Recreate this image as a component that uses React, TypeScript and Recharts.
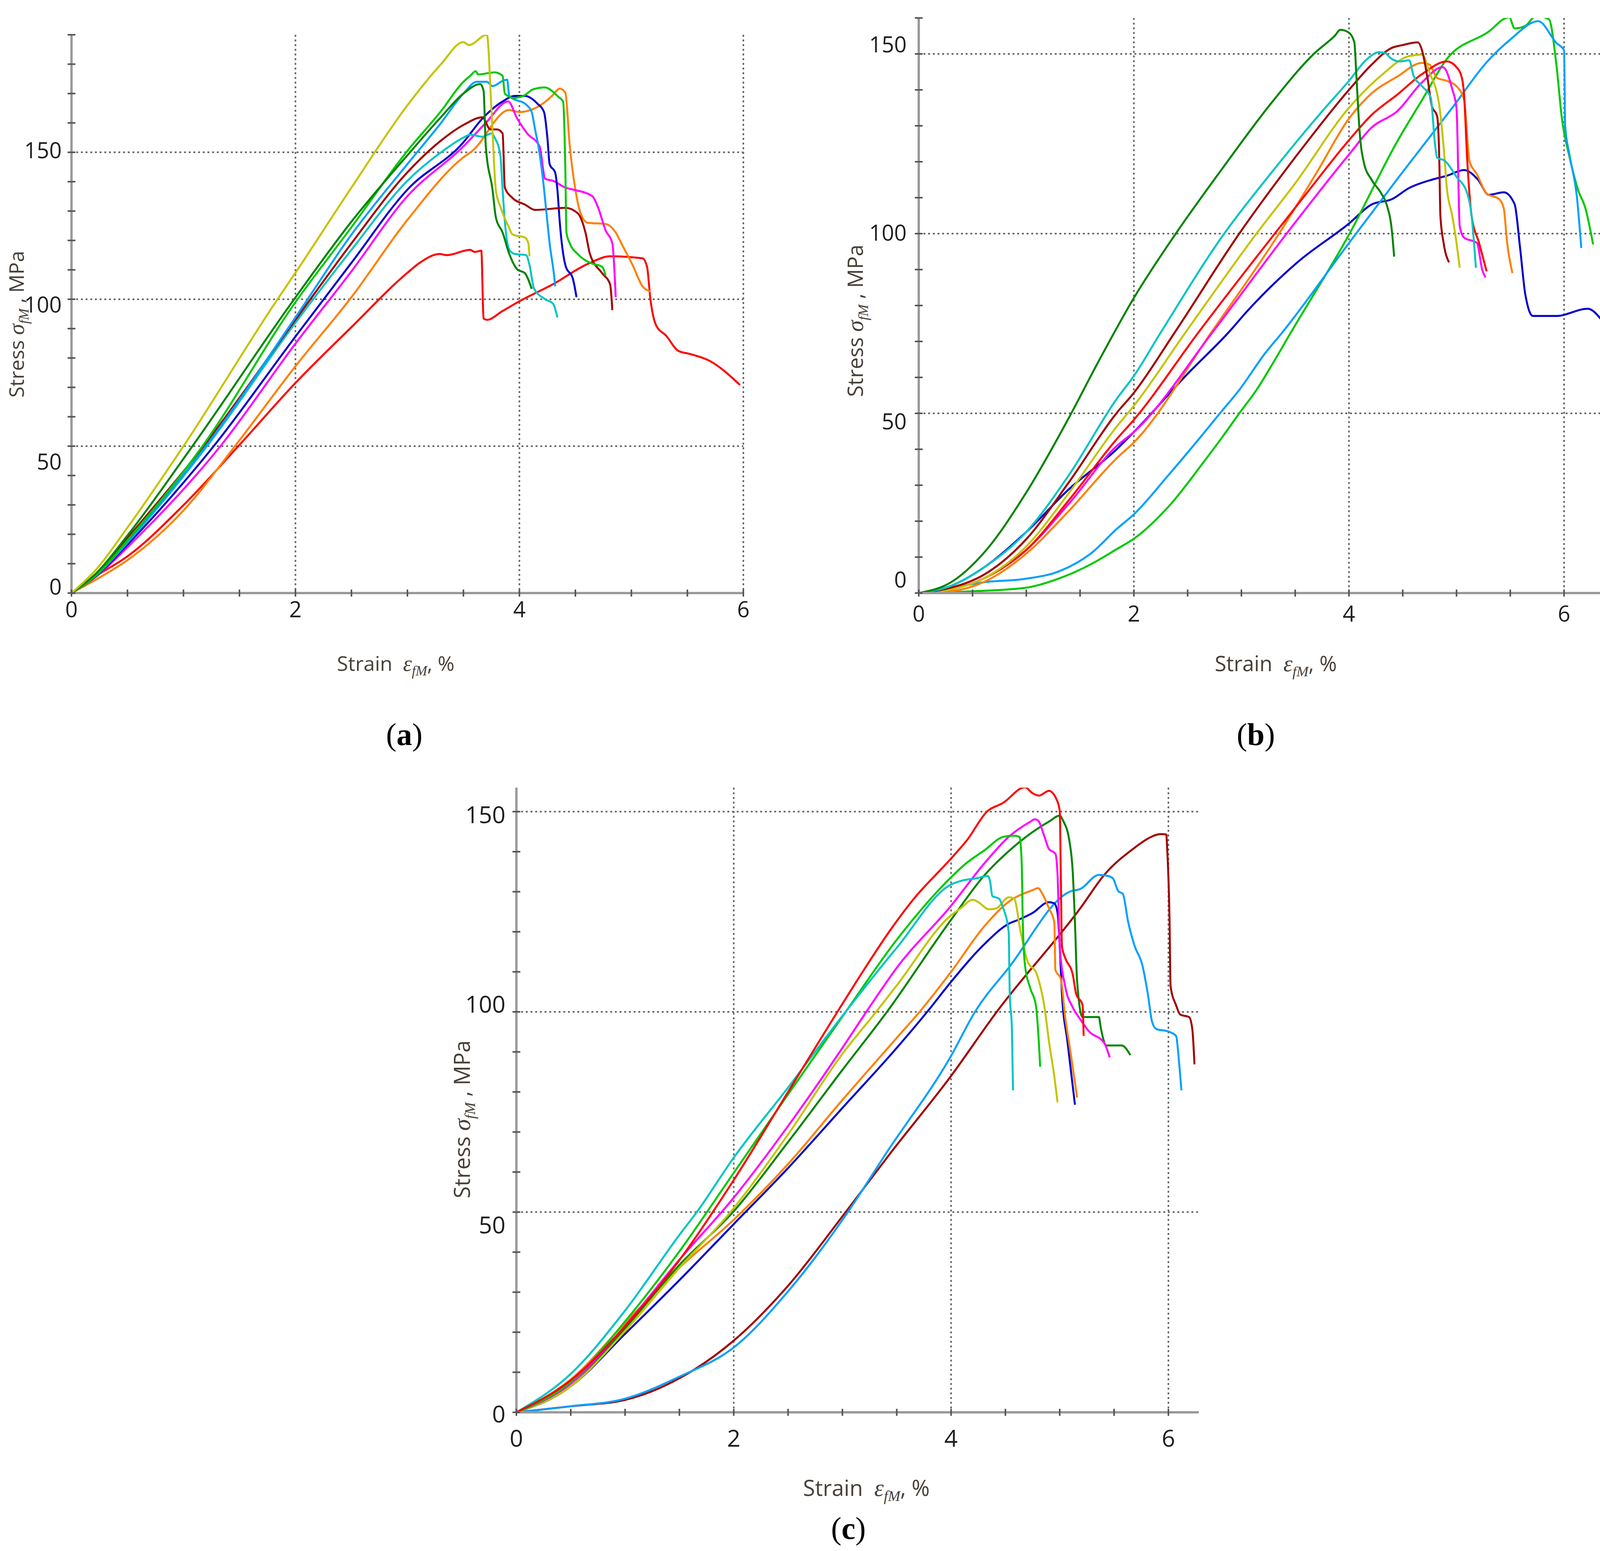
import React from "react";
import { LineChart, Line, XAxis, YAxis, CartesianGrid } from "recharts";

// curve colours used by the test machine software
const YELLOW = "#c4c400";
const GREEN = "#00c800";
const DKGREEN = "#008400";
const LTBLUE = "#00a0ff";
const CYAN = "#00c4c4";
const BLUE = "#0000cc";
const MAGENTA = "#ff00ff";
const ORANGE = "#ff8000";
const RED = "#ff0000";
const BROWN = "#a00000";

// ---- panel (a): strain %, stress MPa ----
const aYellow = [[0,0],[0.22,8],[0.5,22.3],[1,50],[1.84,100],[2,109],[2.5,138],[3,166],[3.3,180],[3.5,187.5],[3.55,186.5],[3.71,190],[3.75,165],[3.79,137],[3.83,131.5],[3.9,125],[3.94,122],[4.05,121],[4.08,119],[4.09,114.6]];
const aDkGreen = [[0,0],[0.22,6.7],[0.5,19.6],[1.08,50],[2,100.6],[2.5,126.4],[3,149],[3.3,162],[3.5,170],[3.65,173.2],[3.68,171],[3.7,152],[3.76,137.3],[3.79,127.8],[3.85,122.7],[3.91,115.4],[3.98,110.2],[4.05,108.8],[4.11,103.5]];
const aGreen = [[0,0],[0.22,6],[0.5,18],[1.17,50],[2,99],[2.5,124.5],[3,150.5],[3.3,164],[3.5,174],[3.56,176],[3.61,177.6],[3.63,176.5],[3.78,177.2],[3.85,176],[3.87,170],[3.95,168.5],[4.05,169.5],[4.12,171.4],[4.23,172.1],[4.26,171.7],[4.35,168.8],[4.39,167.3],[4.41,144.7],[4.42,122.7],[4.45,119],[4.52,115.4],[4.63,112.4],[4.74,111],[4.77,108]];
const aLtBlue = [[0,0],[0.22,6],[0.5,17.6],[1.2,50],[2,93.8],[2.5,122],[3,146],[3.3,160],[3.5,170],[3.62,174],[3.71,174],[3.76,172.5],[3.85,174.3],[3.89,174.7],[3.91,169.2],[4.07,165.9],[4.11,163.7],[4.14,157.8],[4.17,152],[4.21,141],[4.24,130],[4.27,119],[4.31,108],[4.32,104.4]];
const aBrown = [[0,0],[0.22,6.2],[0.5,18.7],[1.18,50],[2,93],[2.5,119],[3,143.2],[3.3,154],[3.5,159.3],[3.67,161.9],[3.74,157.8],[3.8,157.8],[3.85,156.4],[3.87,138],[3.94,134.4],[4.05,132.2],[4.14,130.4],[4.41,131.1],[4.52,129.3],[4.59,122.7],[4.63,115.4],[4.74,108.8],[4.81,105.1],[4.83,96.3]];
const aCyan = [[0,0],[0.22,6],[0.5,17.2],[1.21,50],[2,92],[2.5,116.8],[3,140.3],[3.3,150],[3.5,155],[3.56,156],[3.67,155.3],[3.75,156.4],[3.78,154.9],[3.83,149],[3.85,137.3],[3.87,126.4],[3.91,116.8],[3.96,115.4],[4.06,115],[4.09,111.7],[4.13,103.7],[4.23,100],[4.3,98.5],[4.34,93.8]];
const aBlue = [[0,0],[0.22,5.8],[0.5,16.5],[1.27,50],[2,87.3],[2.5,112.4],[3,137.3],[3.5,153.4],[3.67,161.5],[3.85,167.3],[3.96,169.2],[4.05,169.2],[4.16,166.6],[4.22,163.7],[4.25,154.9],[4.27,146],[4.32,143],[4.34,137],[4.36,126.4],[4.41,111.7],[4.48,106.6],[4.51,100.7]];
const aMagenta = [[0,0],[0.22,5.6],[0.5,15.6],[1.33,50],[2,84.9],[2.5,109.5],[3,135.1],[3.5,152],[3.7,160],[3.9,167.3],[3.98,161.5],[4.07,156.4],[4.18,152],[4.23,141],[4.3,140.3],[4.41,138],[4.48,137.3],[4.65,135.1],[4.7,131.5],[4.77,123.4],[4.83,119],[4.86,100.7]];
const aOrange = [[0,0],[0.22,4.6],[0.5,11.2],[1,28.1],[1.46,50],[2,77.2],[2.5,100.7],[3,127],[3.5,148.3],[3.58,150.5],[3.91,164.4],[4,163.7],[4.21,166.6],[4.3,169.5],[4.36,171.7],[4.41,170.3],[4.45,152],[4.5,137.3],[4.54,130],[4.61,126],[4.77,125.6],[4.86,122.7],[4.92,118.3],[5.01,111.7],[5.1,104.4],[5.17,102.6]];
const aRed = [[0,0],[0.22,5.8],[0.5,12.5],[1,29.9],[1.49,50],[2,71.5],[2.5,90.5],[3,109],[3.11,112.4],[3.29,115.4],[3.35,115],[3.56,116.8],[3.6,116.1],[3.66,116.5],[3.68,93.4],[3.71,93],[3.85,96],[4,99.3],[4.3,105.1],[4.61,112],[4.81,114.6],[5.1,113.9],[5.14,111],[5.17,100],[5.22,91.2],[5.31,87.6],[5.42,82.4],[5.52,81.4],[5.7,79],[5.97,70.8]];

// ---- panel (b) ----
const bDkGreen = [[0,0],[0.3,3],[0.6,11],[1,28],[1.4,49],[1.66,63.8],[2,82.1],[2.39,100],[2.82,118],[3.28,136.4],[3.68,150.2],[3.87,155.1],[3.92,156.7],[4,155.9],[4.05,153.2],[4.07,143.3],[4.1,128],[4.14,119.6],[4.21,115],[4.3,111.2],[4.35,108.1],[4.4,100.5],[4.42,93.6]];
const bCyan = [[0,0],[0.3,2],[0.6,7],[1,17],[1.4,33],[1.84,54],[2,60.4],[2.25,72.5],[2.84,100],[3.28,117],[3.75,134],[4,142.5],[4.17,148.6],[4.28,150.5],[4.34,150.2],[4.38,149],[4.47,147.9],[4.56,148.2],[4.6,144],[4.68,141],[4.76,137.9],[4.8,124.9],[4.82,121.1],[4.89,120.3],[5,115.8],[5.1,111.2],[5.14,105],[5.18,90.5]];
const bBrown = [[0,0],[0.3,1.5],[0.6,5],[1,15],[1.4,31],[1.84,50.1],[2,55.7],[2.38,72.5],[2.98,100],[3.52,122],[4,140],[4.21,147],[4.4,151.7],[4.49,152.4],[4.64,153.2],[4.68,150.9],[4.73,143.3],[4.77,135.6],[4.82,132.6],[4.84,120.3],[4.85,105],[4.88,97.4],[4.93,92]];
const bYellow = [[0,0],[0.3,1],[0.6,4],[1,13],[1.4,28],[1.84,46.3],[2,52.1],[2.48,72.5],[3.14,100],[3.5,114],[4,135],[4.3,144],[4.56,149.4],[4.68,149.8],[4.75,144.8],[4.84,135.6],[4.88,124.2],[4.91,112.7],[4.96,105],[5,97.4],[5.03,90.5]];
const bRed = [[0,0],[0.3,1],[0.6,4],[1,12],[1.4,26],[1.84,42.8],[2,48.2],[2.6,72.5],[3.31,100],[3.6,111],[4,126],[4.21,133],[4.45,138.7],[4.68,144.4],[4.91,147.9],[5,146.3],[5.05,143.3],[5.07,138.7],[5.1,120.3],[5.14,105],[5.21,97.4],[5.28,89.5]];
const bMagenta = [[0,0],[0.3,1],[0.6,4],[1,12],[1.4,25],[1.84,40.9],[2,44.8],[2.73,72.5],[3.42,100],[4,122],[4.21,129.5],[4.45,134.1],[4.68,142.1],[4.87,146.3],[4.89,146],[4.96,140.2],[5,134.9],[5.03,102],[5.07,98.9],[5.19,97.4],[5.24,89.8],[5.27,87.8]];
const bOrange = [[0,0],[0.3,0.5],[0.6,3],[1,11],[1.4,23],[1.84,37.5],[2,41.9],[2.72,72.5],[3.35,100],[3.7,117],[4,132],[4.21,139],[4.45,143.7],[4.68,147.5],[4.75,147],[4.82,143.3],[4.91,142.5],[5,141],[5.07,137.2],[5.12,120.3],[5.19,116.5],[5.28,111.2],[5.4,109.5],[5.44,106.9],[5.47,97.6],[5.52,89]];
const bBlue = [[0,0],[0.3,2],[0.6,7],[1,17],[1.4,29],[1.84,40],[2,44.8],[2.5,61],[2.88,72.5],[3.05,78.3],[3.52,92],[4,102.8],[4.21,108.1],[4.4,109.6],[4.56,112.7],[4.77,115],[4.91,116.1],[5.07,117.7],[5.2,115],[5.3,110.8],[5.44,111.5],[5.54,108.2],[5.59,96.3],[5.64,83],[5.71,77.1],[5.93,77.1],[6.22,79.1],[6.42,73.8],[6.61,70.5]];
const bLtBlue = [[0,0],[0.3,1.5],[0.6,3],[1,4],[1.3,6],[1.6,11],[1.84,17.8],[2,21.9],[2.33,33.1],[2.65,44.5],[2.8,50],[2.98,56.5],[3.22,66.7],[3.38,72.5],[4,97.4],[4.47,116],[4.96,135],[5.29,148],[5.5,154],[5.76,159.1],[5.93,153],[6,151],[6.01,130],[6.05,122],[6.12,110],[6.16,96]];
const bGreen = [[0,0],[0.5,0.5],[1,1.5],[1.3,4],[1.6,8],[1.84,12.2],[2,15.1],[2.33,24.3],[2.65,36.5],[2.82,43.3],[2.98,50],[3.14,56.5],[3.3,64.3],[3.46,72.5],[4,99.7],[4.45,125.7],[4.68,137.2],[4.91,148.6],[5.29,156],[5.49,160.2],[5.54,157.1],[5.64,157.8],[5.74,160.6],[5.86,159.6],[5.93,146.6],[5.98,132],[6.05,121.4],[6.13,112.2],[6.2,106.9],[6.27,97]];

// ---- panel (c) ----
const cCyan = [[0,0],[0.5,9.6],[1,25.4],[1.5,44.3],[1.66,50],[2,63.6],[2.5,81.1],[3,99],[3.5,116],[4,131.8],[4.09,132.7],[4.22,133.3],[4.34,133.9],[4.36,132.4],[4.38,128.9],[4.44,128.3],[4.48,125.9],[4.53,120],[4.54,104.6],[4.56,95.7],[4.57,80.4]];
const cGreen = [[0,0],[0.5,7.6],[1,22.7],[1.5,40.2],[2,59.8],[2.5,79.4],[3.03,100],[3.5,118],[4,133.6],[4.13,136.9],[4.31,140.4],[4.48,143.7],[4.57,144],[4.63,143.7],[4.65,137.2],[4.66,122.4],[4.68,111.7],[4.73,105.8],[4.78,101.7],[4.8,95.7],[4.82,86.3]];
const cRed = [[0,0],[0.5,8],[1,21.5],[1.5,38],[2,58],[2.5,80],[3,102],[3.21,111],[3.43,120],[3.65,128],[4,138.3],[4.15,143],[4.33,150],[4.48,152.2],[4.68,156.1],[4.75,154.6],[4.81,154],[4.9,155.2],[4.97,153.1],[5,150.2],[5.01,134.2],[5.02,116.4],[5.05,113.5],[5.12,109.3],[5.15,104.6],[5.21,101.7],[5.22,94]];
const cMagenta = [[0,0],[0.5,7.2],[1,21.6],[1.5,38.1],[2,53.6],[2.5,71.5],[3,91],[3.22,100],[3.5,111],[4,126.5],[4.31,137.2],[4.53,143.7],[4.73,147.5],[4.77,148.1],[4.8,147.8],[4.86,143.7],[4.9,140.7],[4.96,139.5],[4.98,134.2],[5,116.4],[5.05,106.4],[5.12,101.1],[5.19,98.1],[5.27,95.1],[5.41,92.2],[5.46,88.6]];
const cYellow = [[0,0],[0.5,6.5],[1,20.3],[1.5,36.1],[1.97,50],[2.5,69.4],[3,89.5],[3.31,100],[3.5,106.6],[4,124.1],[4.09,125.9],[4.2,128],[4.25,127.4],[4.35,125.6],[4.42,125.9],[4.53,128.6],[4.58,128.3],[4.64,120],[4.7,112.9],[4.79,109.3],[4.86,101.1],[4.9,92.8],[4.95,83.9],[4.98,77.4]];
const cDkGreen = [[0,0],[0.5,6.5],[1,21],[1.5,36.8],[2,50.2],[2.5,67.5],[3,85.5],[3.41,100],[4,123],[4.31,134.2],[4.53,140.1],[4.75,144.9],[4.9,147.5],[5,149],[5.03,147.8],[5.09,142.5],[5.12,134.8],[5.14,122.4],[5.16,107.6],[5.21,98.7],[5.36,98.7],[5.38,95.7],[5.43,91.6],[5.57,91.6],[5.65,89.2]];
const cOrange = [[0,0],[0.5,8.2],[1,22.3],[1.5,36.1],[2,48.1],[2.5,62],[3,78],[3.5,93.5],[3.71,100],[4,110],[4.31,121.5],[4.53,127.5],[4.75,130.4],[4.8,130.9],[4.84,129.5],[4.9,125.9],[4.95,122.4],[4.96,110.5],[5.01,108.2],[5.05,98.7],[5.1,89.8],[5.16,78.6]];
const cBlue = [[0,0],[0.5,6.5],[1,19.6],[1.5,33],[2,47],[2.5,61],[3,76],[3.5,91],[3.78,100],[4,107.5],[4.31,117],[4.53,122],[4.62,123],[4.75,124.7],[4.9,127.4],[4.95,127.1],[4.98,124.7],[5,116.4],[5.02,104.6],[5.07,92.8],[5.14,76.8]];
const cLtBlue = [[0,0],[0.5,1.5],[1,3.4],[1.5,8.9],[2,16.2],[2.5,30.2],[3.05,50],[3.41,65],[4,89],[4.22,100],[4.53,111],[5.1,130.1],[5.19,130.7],[5.36,134.2],[5.45,133.9],[5.49,133.3],[5.54,130.1],[5.58,129.5],[5.63,122.4],[5.69,116.4],[5.76,111.7],[5.81,104.6],[5.85,97.5],[5.89,95.7],[6,95.1],[6.07,94],[6.1,86.9],[6.12,80.4]];
const cBrown = [[0,0],[0.5,1.5],[1,3.1],[1.5,8.5],[2,17.9],[2.5,31.6],[3.03,50],[3.45,65],[4,84],[4.42,100],[5.19,125.9],[5.41,134.2],[5.69,141],[5.82,143.4],[5.93,144.4],[5.98,144.3],[5.99,140],[6.01,123.6],[6.02,106.4],[6.07,101.7],[6.11,99.3],[6.19,98.7],[6.22,95.7],[6.24,86.9]];

const xTicksA = [0,0.5,1,1.5,2,2.5,3,3.5,4,4.5,5,5.5,6];
const xTicksB = [0,0.5,1,1.5,2,2.5,3,3.5,4,4.5,5,5.5,6,6.5];
const xTicksC = [0,0.5,1,1.5,2,2.5,3,3.5,4,4.5,5,5.5,6];
const xLabels = [0,2,4,6];
const yTicksA = [0,10,20,30,40,50,60,70,80,90,100,110,120,130,140,150,160,170,180,190];
const yTicksB = [0,10,20,30,40,50,60,70,80,90,100,110,120,130,140,150,160];
const yTicksC = [0,10,20,30,40,50,60,70,80,90,100,110,120,130,140,150];
const yLabels = [0,50,100,150];

const seriesA = [
  { name: "red", color: RED, data: aRed },
  { name: "orange", color: ORANGE, data: aOrange },
  { name: "magenta", color: MAGENTA, data: aMagenta },
  { name: "blue", color: BLUE, data: aBlue },
  { name: "cyan", color: CYAN, data: aCyan },
  { name: "brown", color: BROWN, data: aBrown },
  { name: "ltblue", color: LTBLUE, data: aLtBlue },
  { name: "green", color: GREEN, data: aGreen },
  { name: "dkgreen", color: DKGREEN, data: aDkGreen },
  { name: "yellow", color: YELLOW, data: aYellow },
];
const seriesB = [
  { name: "blue", color: BLUE, data: bBlue },
  { name: "green", color: GREEN, data: bGreen },
  { name: "ltblue", color: LTBLUE, data: bLtBlue },
  { name: "orange", color: ORANGE, data: bOrange },
  { name: "magenta", color: MAGENTA, data: bMagenta },
  { name: "red", color: RED, data: bRed },
  { name: "yellow", color: YELLOW, data: bYellow },
  { name: "brown", color: BROWN, data: bBrown },
  { name: "cyan", color: CYAN, data: bCyan },
  { name: "dkgreen", color: DKGREEN, data: bDkGreen },
];
const seriesC = [
  { name: "brown", color: BROWN, data: cBrown },
  { name: "ltblue", color: LTBLUE, data: cLtBlue },
  { name: "blue", color: BLUE, data: cBlue },
  { name: "orange", color: ORANGE, data: cOrange },
  { name: "dkgreen", color: DKGREEN, data: cDkGreen },
  { name: "yellow", color: YELLOW, data: cYellow },
  { name: "magenta", color: MAGENTA, data: cMagenta },
  { name: "green", color: GREEN, data: cGreen },
  { name: "cyan", color: CYAN, data: cCyan },
  { name: "red", color: RED, data: cRed },
];

const toPts = (arr: number[][]) => arr.map(([x, y]) => ({ x, y }));

const SANS = "'Open Sans', 'DejaVu Sans', sans-serif";
const SERIF = "'Liberation Serif', 'DejaVu Serif', serif";

function YTick(props: any) {
  const { x, y, payload, shift, gap, fs } = props;
  const v = payload.value;
  return (
    <g>
      <line x1={x - 10} x2={x + 10} y1={y} y2={y} stroke="#555" strokeWidth={4} />
      {yLabels.includes(v) && (
        <text x={x - gap} y={y + (shift[v] || 0)} textAnchor="end" dominantBaseline="central" fontSize={fs} fontFamily={SANS} fill="#1e1e1e">
          {v}
        </text>
      )}
    </g>
  );
}

function XTick(props: any) {
  const { x, y, payload, dy, fs } = props;
  const v = payload.value;
  return (
    <g>
      <line x1={x} x2={x} y1={y - 9} y2={y + 9} stroke="#555" strokeWidth={4} />
      {xLabels.includes(v) && (
        <text x={x} y={y + dy} textAnchor="middle" dominantBaseline="central" fontSize={fs} fontFamily={SANS} fill="#1e1e1e">
          {v}
        </text>
      )}
    </g>
  );
}

function Panel(props: any) {
  const { left, top, plotW, plotH, xMax, yMax, xTicks, yTicks, series, shift, gap, fs, xDy } = props;
  // axis boxes are 1px so that recharts still draws them; margins place the plot area
  const ML = 179, MR = 30, MT = 30, MB = 129;
  return (
    <div style={{ position: "absolute", left: left - ML - 1, top: top - MT }}>
      <LineChart width={plotW + ML + MR + 1} height={plotH + MT + MB + 1} margin={{ left: ML, right: MR, top: MT, bottom: MB }}>
        <CartesianGrid horizontalValues={[50, 100, 150]} verticalValues={[2, 4, 6]} stroke="#666" strokeWidth={4} strokeDasharray="5 7" />
        <XAxis
          type="number"
          dataKey="x"
          domain={[0, xMax]}
          ticks={xTicks}
          interval={0}
          height={1}
          tickSize={0}
          tickMargin={0}
          allowDataOverflow
          axisLine={{ stroke: "#9a9a9a", strokeWidth: 6 }}
          tickLine={false}
          tick={(p: any) => <XTick {...p} dy={xDy} fs={fs} />}
        />
        <YAxis
          type="number"
          domain={[0, yMax]}
          ticks={yTicks}
          interval={0}
          width={1}
          tickSize={0}
          tickMargin={0}
          allowDataOverflow
          axisLine={{ stroke: "#9a9a9a", strokeWidth: 6 }}
          tickLine={false}
          tick={(p: any) => <YTick {...p} shift={shift} gap={gap} fs={fs} />}
        />
        {series.map((s: any) => (
          <Line
            key={s.name}
            data={toPts(s.data)}
            dataKey="y"
            type="monotone"
            stroke={s.color}
            strokeWidth={5}
            dot={false}
            activeDot={false}
            isAnimationActive={false}
          />
        ))}
      </LineChart>
    </div>
  );
}

function YTitle({ cx, cy, fs }: { cx: number; cy: number; fs: number }) {
  return (
    <div style={{ position: "absolute", left: cx, top: cy, transform: "translate(-50%, -50%) rotate(-90deg)", whiteSpace: "nowrap", fontFamily: SANS, fontSize: fs, color: "#474038", lineHeight: 1 }}>
      Stress <i style={{ fontFamily: SERIF, fontSize: "1.1em" }}>σ<sub style={{ fontSize: "0.62em" }}>fM</sub></i> , MPa
    </div>
  );
}

function XTitle({ cx, cy, fs }: { cx: number; cy: number; fs: number }) {
  return (
    <div style={{ position: "absolute", left: cx, top: cy, transform: "translate(-50%, -50%)", whiteSpace: "nowrap", fontFamily: SANS, fontSize: fs, color: "#474038", lineHeight: 1 }}>
      Strain&nbsp;&nbsp;<i style={{ fontFamily: SERIF, fontSize: "1.1em" }}>ε<sub style={{ fontSize: "0.62em" }}>fM</sub></i>, %
    </div>
  );
}

function Caption({ cx, cy, letter }: { cx: number; cy: number; letter: string }) {
  return (
    <div style={{ position: "absolute", left: cx, top: cy, transform: "translate(-50%, -50%)", fontFamily: SERIF, fontSize: 80, color: "#000", lineHeight: 1 }}>
      (<b>{letter}</b>)
    </div>
  );
}

export default function App() {
  return (
    <div style={{ position: "absolute", left: 0, top: 0, width: 4201, height: 3970, background: "#fff", overflow: "hidden" }}>
      <Panel left={183} top={89} plotW={1720} plotH={1429} xMax={6} yMax={190} xTicks={xTicksA} yTicks={yTicksA}
        series={seriesA} shift={{ 0: -18, 50: 38, 100: 12, 150: -7 }} gap={25} fs={56} xDy={40} />
      <YTitle cx={46} cy={830} fs={52} />
      <XTitle cx={1013} cy={1702} fs={52} />
      <Caption cx={1035} cy={1880} letter="a" />

      <Panel left={2352} top={46} plotW={1831} plotH={1472} xMax={6.65} yMax={160} xTicks={xTicksB} yTicks={yTicksB}
        series={seriesB} shift={{ 0: -36, 50: 19, 100: -4, 150: -26 }} gap={31} fs={56} xDy={51} />
      <YTitle cx={2194} cy={821} fs={54} />
      <XTitle cx={3266} cy={1703} fs={54} />
      <Caption cx={3215} cy={1880} letter="b" />

      <Panel left={1322} top={2016} plotW={1747} plotH={1599} xMax={6.28} yMax={156} xTicks={xTicksC} yTicks={yTicksC}
        series={seriesC} shift={{ 0: 3, 50: 31, 100: -21, 150: 6 }} gap={28} fs={60} xDy={65} />
      <YTitle cx={1187} cy={2865} fs={56} />
      <XTitle cx={2218} cy={3813} fs={56} />
      <Caption cx={2172} cy={3912} letter="c" />
    </div>
  );
}
